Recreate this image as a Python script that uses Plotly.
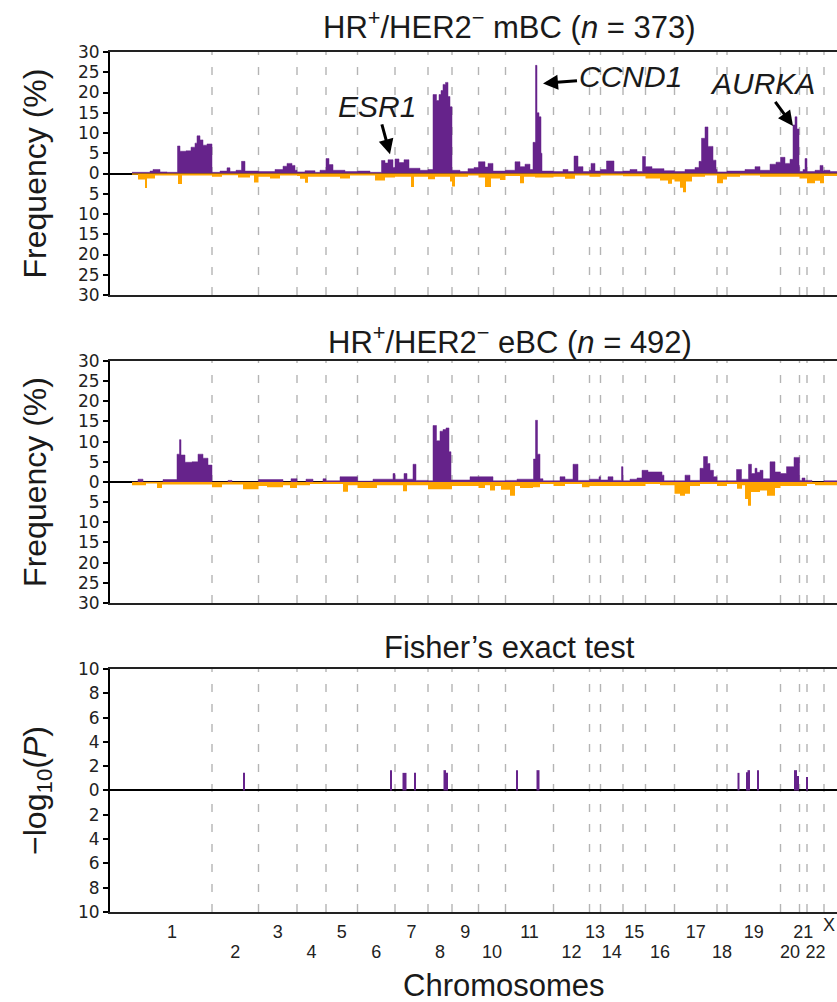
import plotly.graph_objects as go

# ---------------------------------------------------------------------------
# Genome layout: chromosomes and their length in bins (gene-density bins)
# ---------------------------------------------------------------------------
CHROMS = [str(i) for i in range(1, 23)] + ["X"]
CHROM_BINS = [160, 93, 77, 58, 63, 75, 66, 48, 53, 54, 96, 72,
              22, 45, 45, 58, 85, 20, 107, 38, 15, 34, 60]

# ---------------------------------------------------------------------------
# Copy-number segments: genome-bin breakpoint where a segment starts,
# and the frequency (%) of samples carrying the alteration.
# ---------------------------------------------------------------------------
# HR+/HER2- metastatic breast cancer (n = 373)
MBC_GAIN_START = [0, 36, 42, 56, 70, 91, 96, 108, 118, 126, 130, 136, 142, 150,
                  160, 176, 190, 196, 208, 219, 226, 253, 286, 302, 310, 320, 326,
                  330, 346, 366, 376, 388, 394, 402, 426, 451, 476, 499, 506, 512,
                  522, 526, 534, 544, 554, 576, 592, 602, 609, 614, 618, 622, 627,
                  632, 636, 640, 656, 672, 684, 693, 706, 712, 722, 747, 766, 776,
                  786, 796, 802, 807, 810, 814, 818, 820, 843, 862, 872, 884, 892,
                  902, 915, 918, 926, 937, 949, 964, 982, 996, 1010, 1021, 1027,
                  1040, 1064, 1085, 1106, 1126, 1134, 1139, 1146, 1152, 1162, 1168,
                  1170, 1190, 1226, 1246, 1256, 1276, 1288, 1297, 1306, 1316, 1322,
                  1326, 1330, 1334, 1335, 1342, 1346, 1350, 1366, 1376, 1382, 1384,
                  1396]
MBC_GAIN_FREQ = [0.3, 0.6, 1.0, 0.4, 0.3, 6.8, 5.5, 5.6, 6.5, 7.5, 9.3, 8.3, 7.0, 7.3,
                 0.3, 0.6, 1.4, 0.5, 0.8, 3.0, 0.6, 0.5, 1.0, 1.8, 2.5, 2.0, 0.8,
                 0.4, 0.7, 0.3, 0.8, 3.7, 2.2, 0.8, 0.5, 0.6, 0.3, 3.2, 2.6, 3.4,
                 1.5, 3.6, 2.7, 3.4, 1.3, 0.8, 1.0, 19.5, 18.0, 19.5, 20.5, 22.0, 22.5,
                 19.0, 16.5, 0.8, 0.5, 1.2, 1.5, 2.9, 1.6, 2.5, 0.6, 0.8, 2.9, 1.7,
                 2.3, 1.0, 7.7, 26.7, 15.0, 14.0, 5.0, 0.6, 0.5, 1.0, 0.5, 4.3, 1.7,
                 0.5, 0.8, 2.5, 0.6, 1.0, 3.1, 0.5, 0.6, 1.0, 0.5, 4.2, 1.7,
                 1.2, 0.7, 0.5, 1.0, 1.5, 3.0, 8.7, 11.5, 6.7, 3.3, 1.0,
                 0.4, 0.6, 1.0, 1.7, 0.8, 2.3, 2.8, 4.0, 2.5, 3.5, 12.0,
                 14.0, 11.0, 2.0, 0.5, 1.0, 3.7, 0.5, 0.8, 2.0, 0.6, 0.8,
                 0.5]
MBC_LOSS_START = [0, 12, 26, 30, 46, 92, 100, 160, 180, 212, 236, 244, 253, 276, 296,
                  330, 336, 346, 352, 388, 416, 436, 451, 486, 506, 526, 558, 564,
                  592, 606, 636, 640, 646, 672, 693, 706, 718, 736, 747, 776, 784,
                  806, 843, 866, 886, 915, 937, 982, 1027, 1056, 1072, 1080, 1085,
                  1096, 1102, 1108, 1120, 1146, 1170, 1182, 1190, 1216, 1256, 1297,
                  1335, 1350, 1366, 1376, 1384]
MBC_LOSS_FREQ = [0.3, 1.5, 3.6, 1.2, 0.5, 2.6, 0.5, 0.8, 0.4, 1.0, 0.5, 2.2, 0.8, 1.2, 0.5,
                 0.6, 1.3, 2.3, 0.8, 0.8, 1.2, 0.5, 0.5, 1.7, 1.0, 0.8, 3.3, 0.8,
                 1.4, 0.8, 2.0, 3.2, 0.8, 0.5, 1.0, 3.3, 1.2, 1.6, 0.6, 2.4, 0.8,
                 1.0, 0.8, 1.3, 0.5, 0.8, 0.5, 0.7, 1.2, 1.7, 2.5, 1.5, 2.0,
                 3.5, 4.6, 2.0, 0.8, 0.5, 2.4, 1.5, 0.8, 0.5, 0.8, 0.8,
                 1.2, 2.4, 1.8, 2.4, 0.6]

# HR+/HER2- early breast cancer (n = 492)
EBC_GAIN_START = [0, 12, 22, 62, 90, 95, 98, 106, 120, 132, 142, 152, 160, 192, 200,
                  253, 302, 318, 330, 348, 362, 382, 388, 416, 451, 482, 522, 526,
                  544, 550, 562, 568, 592, 602, 609, 616, 622, 628, 634, 638, 676,
                  693, 722, 747, 770, 803, 807, 811, 816, 822, 843, 856, 866, 882,
                  892, 915, 934, 937, 952, 962, 979, 982, 996, 1010, 1020, 1032,
                  1060, 1064, 1106, 1116, 1136, 1143, 1151, 1156, 1163, 1170, 1209,
                  1219, 1233, 1239, 1246, 1250, 1256, 1262, 1276, 1286, 1297, 1309,
                  1324, 1335, 1340, 1346, 1360, 1384]
EBC_GAIN_FREQ = [0.0, 0.7, 0.0, 0.6, 6.9, 10.5, 6.7, 4.9, 5.0, 6.9, 5.9, 4.2, 0.0, 0.4, 0.0,
                 0.6, 0.0, 0.8, 0.0, 0.7, 0.0, 0.8, 0.3, 1.3, 0.2, 0.7, 2.1, 0.7,
                 2.1, 0.7, 4.4, 0.4, 0.3, 14.0, 10.2, 12.6, 13.0, 13.4, 7.5, 0.5, 1.3,
                 1.3, 0.3, 0.4, 0.7, 5.7, 15.3, 6.9, 0.8, 0.3, 0.3, 1.3, 0.7, 4.4,
                 0.4, 0.7, 1.3, 0.5, 1.3, 0.4, 3.8, 0.3, 0.7, 1.0, 2.9, 2.5,
                 1.7, 0.3, 1.7, 0.4, 3.4, 6.3, 4.6, 2.9, 1.3, 0.3, 3.1,
                 0.7, 4.4, 2.1, 3.4, 2.4, 2.9, 0.8, 5.0, 2.5, 2.1, 3.8,
                 6.1, 0.4, 1.0, 0.4, 0.0, 0.3]
EBC_LOSS_START = [0, 28, 50, 60, 160, 180, 222, 253, 270, 302, 316, 330, 356, 388, 422,
                  432, 451, 490, 526, 542, 550, 592, 640, 693, 706, 716, 726, 738,
                  756, 766, 776, 802, 816, 843, 866, 900, 915, 1027, 1056, 1085, 1096,
                  1106, 1116, 1136, 1170, 1190, 1210, 1220, 1226, 1232, 1238, 1256,
                  1270, 1286, 1297, 1350, 1366, 1384]
EBC_LOSS_FREQ = [0.8, 0.4, 1.5, 0.6, 1.3, 0.6, 1.8, 1.0, 1.3, 0.8, 1.5, 0.8, 0.5, 0.5, 2.4,
                 0.8, 1.5, 0.8, 0.8, 2.3, 0.8, 1.8, 1.0, 1.5, 0.8, 2.1, 1.0, 1.9,
                 3.4, 1.0, 1.5, 1.3, 0.5, 1.0, 0.5, 1.3, 1.0, 0.5, 0.8, 2.9, 3.4,
                 2.9, 1.0, 0.5, 1.0, 0.5, 1.7, 0.8, 4.2, 5.9, 2.5, 2.1,
                 3.4, 1.5, 1.0, 0.5, 0.8, 0.8]

# Fisher's exact test between cohorts: significant segments and -log10(P)
FISHER_START = [222, 516, 541, 564, 623, 628, 768, 809, 1211, 1228, 1231, 1250, 1324, 1330, 1348]
FISHER_END = [225, 520, 549, 568, 628, 632, 772, 815, 1215, 1231, 1236, 1254, 1330, 1334, 1352]
FISHER_LOGP = [1.45, 1.67, 1.45, 1.45, 1.67, 1.45, 1.67, 1.67, 1.45, 1.5, 1.67, 1.67, 1.67, 1.2, 1.1]

# Driver genes highlighted on the metastatic profile
GENES = ["ESR1", "CCND1", "AURKA"]
GENE_BIN = [516, 822, 1322]
GENE_FREQ = [4.75, 22.25, 11.75]
GENE_LABEL_DX = [-13, 87, -31]
GENE_LABEL_DY = [-48, -7, -42]

PURPLE = "#66238b"
ORANGE = "#ffa500"
DASH_GREY = "#b4b4b4"
FONT = "Liberation Sans, Arial, Helvetica, sans-serif"
TICK_FONT = "DejaVu Sans, Liberation Sans, sans-serif"

# chromosome boundaries and centres in genome-bin coordinates
bounds = [0]
for n in CHROM_BINS:
    bounds.append(bounds[-1] + n)
genome_end = bounds[-1]
centres = [(bounds[i] + bounds[i + 1]) / 2 for i in range(len(CHROMS))]

X_RANGE = [-44, 1410]


def step_xy(starts, vals, end):
    xs = list(starts) + [end]
    ys = list(vals) + [vals[-1]]
    return xs, ys


fig = go.Figure()

panels = [("x", "y", MBC_GAIN_START, MBC_GAIN_FREQ, MBC_LOSS_START, MBC_LOSS_FREQ),
          ("x2", "y2", EBC_GAIN_START, EBC_GAIN_FREQ, EBC_LOSS_START, EBC_LOSS_FREQ)]
for xa, ya, gs, gf, ls, lf in panels:
    gx, gy = step_xy(gs, gf, genome_end)
    fig.add_trace(go.Scatter(x=gx, y=gy, xaxis=xa, yaxis=ya, mode="lines",
                             line=dict(shape="hv", color=PURPLE, width=0.5),
                             fill="tozeroy", fillcolor=PURPLE, hoverinfo="skip"))
    lx, ly = step_xy(ls, [-v for v in lf], genome_end)
    fig.add_trace(go.Scatter(x=lx, y=ly, xaxis=xa, yaxis=ya, mode="lines",
                             line=dict(shape="hv", color=ORANGE, width=0),
                             fill="tozeroy", fillcolor=ORANGE, hoverinfo="skip"))

fig.add_trace(go.Bar(
    x=[(s + e) / 2 for s, e in zip(FISHER_START, FISHER_END)],
    width=[e - s for s, e in zip(FISHER_START, FISHER_END)],
    y=FISHER_LOGP, xaxis="x3", yaxis="y3",
    marker=dict(color=PURPLE, line=dict(width=0)), hoverinfo="skip"))
# carrier trace for the second row of chromosome labels
fig.add_trace(go.Scatter(x=[], y=[], xaxis="x4", yaxis="y3", hoverinfo="skip"))

# chromosome separators in every panel
shapes = []
for xref, yref in [("x", "y domain"), ("x2", "y2 domain"), ("x3", "y3 domain")]:
    for b in bounds[1:-1]:
        shapes.append(dict(type="line", xref=xref, yref=yref, x0=b, x1=b, y0=0, y1=1,
                           layer="below",
                           line=dict(color=DASH_GREY, width=1.4, dash="8px,12px")))

domains = [[0.7174, 1.0], [0.3593, 0.6407], [0.0, 0.2826]]

xcommon = dict(range=X_RANGE, autorange=False, showline=True, mirror=True,
               linecolor="#222222", linewidth=2, showgrid=False, zeroline=False,
               ticks="", fixedrange=True)

freq_vals = list(range(-30, 31, 5))
freq_text = [str(abs(v)) for v in freq_vals]
p_vals = list(range(-10, 11, 2))
p_text = [str(abs(v)) for v in p_vals]

ycommon = dict(showline=True, linecolor="black", linewidth=2, showgrid=False,
               zeroline=True, zerolinecolor="black", zerolinewidth=2,
               ticks="outside", ticklen=5, tickwidth=1.5, tickcolor="black",
               tickfont=dict(family=TICK_FONT, size=17, color="#222222"),
               automargin=False, fixedrange=True)

# odd chromosomes on the first label row, even ones on the second (X sits past the edge)
odd_idx = [i for i in range(len(CHROMS) - 1) if i % 2 == 0]
even_idx = [i for i in range(len(CHROMS) - 1) if i % 2 == 1]
label_font = dict(family=FONT, size=18, color="#222222")

fig.update_layout(
    width=837, height=1002,
    margin=dict(l=110, r=0, t=52, b=90),
    paper_bgcolor="white", plot_bgcolor="white",
    showlegend=False,
    font=dict(family=FONT, color="#1a1a1a"),
    shapes=shapes,
    xaxis=dict(xcommon, anchor="y", domain=[0, 1], showticklabels=False),
    xaxis2=dict(xcommon, anchor="y2", domain=[0, 1], showticklabels=False),
    xaxis3=dict(xcommon, anchor="y3", domain=[0, 1], showticklabels=True,
                tickmode="array", tickvals=[centres[i] for i in odd_idx],
                ticktext=[CHROMS[i] for i in odd_idx], tickangle=0,
                tickfont=label_font, ticklabelstandoff=2, automargin=False),
    xaxis4=dict(range=X_RANGE, autorange=False, overlaying="x3", anchor="y3",
                side="bottom", showline=False, showgrid=False, zeroline=False,
                ticks="", tickmode="array", tickvals=[centres[i] for i in even_idx],
                ticktext=[CHROMS[i] for i in even_idx], tickangle=0,
                tickfont=label_font, ticklabelstandoff=27, automargin=False,
                fixedrange=True),
    yaxis=dict(ycommon, domain=domains[0], anchor="x", range=[-30, 30],
               tickmode="array", tickvals=freq_vals, ticktext=freq_text,
               title=dict(text="Frequency (%)", font=dict(size=32), standoff=22)),
    yaxis2=dict(ycommon, domain=domains[1], anchor="x2", range=[-30, 30],
                tickmode="array", tickvals=freq_vals, ticktext=freq_text,
                title=dict(text="Frequency (%)", font=dict(size=32), standoff=22)),
    yaxis3=dict(ycommon, domain=domains[2], anchor="x3", range=[-10, 10],
                tickmode="array", tickvals=p_vals, ticktext=p_text,
                title=dict(text="−log<sub>10</sub>(<i>P</i>)", font=dict(size=32), standoff=22)),
)

annotations = []
# panel titles
for text, y in [("HR<sup>+</sup>/HER2<sup>−</sup> mBC (<i>n</i> = 373)", 1.0314),
                ("HR<sup>+</sup>/HER2<sup>−</sup> eBC (<i>n</i> = 492)", 0.665),
                ("Fisher’s exact test", 0.307)]:
    annotations.append(dict(text=text, xref="paper", yref="paper", x=0.550, y=y,
                            showarrow=False, xanchor="center", yanchor="middle",
                            font=dict(size=31, color="#1a1a1a")))
# x axis title
annotations.append(dict(text="Chromosomes", xref="paper", yref="paper", x=0.542, y=-0.086,
                        showarrow=False, xanchor="center", yanchor="middle",
                        font=dict(size=31, color="#1a1a1a")))
# label of the last chromosome, which runs past the right edge of the axis
annotations.append(dict(text=CHROMS[-1], xref="paper", yref="paper", x=1.0,
                        y=-0.0151, showarrow=False, xanchor="right", yanchor="middle",
                        font=label_font))
# gene call-outs
for g, b, f, dx, dy in zip(GENES, GENE_BIN, GENE_FREQ, GENE_LABEL_DX, GENE_LABEL_DY):
    annotations.append(dict(text="<i>%s</i>" % g, xref="x", yref="y", x=b, y=f,
                            ax=dx, ay=dy, showarrow=True, arrowhead=2, arrowsize=1,
                            arrowwidth=3, arrowcolor="black", standoff=0,
                            font=dict(size=30, color="#1a1a1a")))
fig.update_layout(annotations=annotations)

fig.write_html("out.html")
